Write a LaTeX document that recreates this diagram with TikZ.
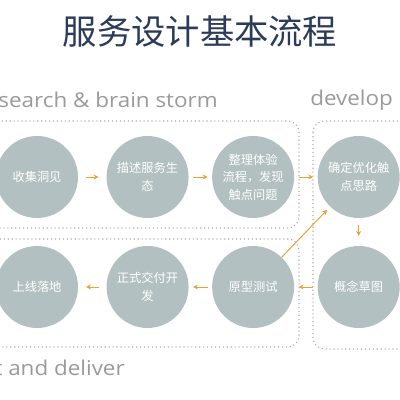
\documentclass[tikz,border=0pt]{standalone}
\usepackage{fontspec}
\newfontfamily\cjkfont{Noto Sans CJK SC}
\newfontfamily\engfont{Open Sans}[FakeStretch=1.1]
\usetikzlibrary{arrows.meta, positioning, calc}
\definecolor{disc}{HTML}{B2C0C1}
\definecolor{flow}{HTML}{E8A23A}
\definecolor{titleblue}{HTML}{2C3B57}
\definecolor{stagegray}{HTML}{9A9A9A}
\begin{document}
\begin{tikzpicture}[
  circ/.style={circle, fill=disc, minimum size=2.05cm, inner sep=0pt, align=center,
               text=white, font=\cjkfont\fontsize{8.7}{12.5}\selectfont},
  stage/.style={font=\engfont\fontsize{14.5}{18}\selectfont, text=stagegray, inner sep=0pt},
  frame/.style={draw=gray!65, dotted, line width=0.8pt, rounded corners=8pt},
  arrow/.style={-{Stealth[length=3.5pt,width=3.5pt]}, draw=flow, line width=0.7pt,
                shorten >=3pt, shorten <=3pt}
]
\useasboundingbox (0,0) rectangle (10,10);
\clip (0,0) rectangle (10,10);
%% TITLE
\node[font=\cjkfont\fontsize{24.4}{28}\selectfont, text=titleblue] (title) at (5,9.2) {服务设计基本流程};
%% STAGES
\node[stage, anchor=east] (res) at (5.45,7.5) {research \& brain storm};
\node[stage, anchor=west] (dev) at (7.75,7.5) {develop};
\node[stage, anchor=east] (del) at (3.125,0.8) {test and deliver};
\draw[frame] (-0.5,6.975) rectangle (7.475,4.3);
\draw[frame] (-0.5,4.025) rectangle (7.475,1.325);
\draw[frame] (7.825,6.975) rectangle (10.5,1.275);
%% TOP ROW
\node[circ] (c1) at (0.925,5.575) {收集洞见};
\node[circ, right=0.7cm of c1] (c2) {描述服务生\\态};
\node[circ, right=0.575cm of c2] (c3) {整理体验\\流程，发现\\触点问题};
\node[circ, right=0.575cm of c3] (c4) {确定优化触\\点思路};
%% BOTTOM ROW
\node[circ] (d1) at (0.925,2.825) {上线落地};
\node[circ, right=0.7cm of d1] (d2) {正式交付开\\发};
\node[circ, right=0.575cm of d2] (d3) {原型测试};
\node[circ, right=0.575cm of d3] (d4) {概念草图};
%% FLOW
\draw[arrow, shorten >=5.5pt, shorten <=5.5pt] (c1) -- (c2);
\draw[arrow] (c2) -- (c3); \draw[arrow] (c3) -- (c4);
\draw[arrow, shorten >=7pt, shorten <=5pt] (c4) -- (d4);
\draw[arrow] (d4) -- (d3); \draw[arrow] (d3) -- (d2);
\draw[arrow, shorten >=5.5pt, shorten <=5.5pt] (d2) -- (d1);
\draw[arrow, shorten <=0pt] (d3) -- (c4);
\end{tikzpicture}
\end{document}
